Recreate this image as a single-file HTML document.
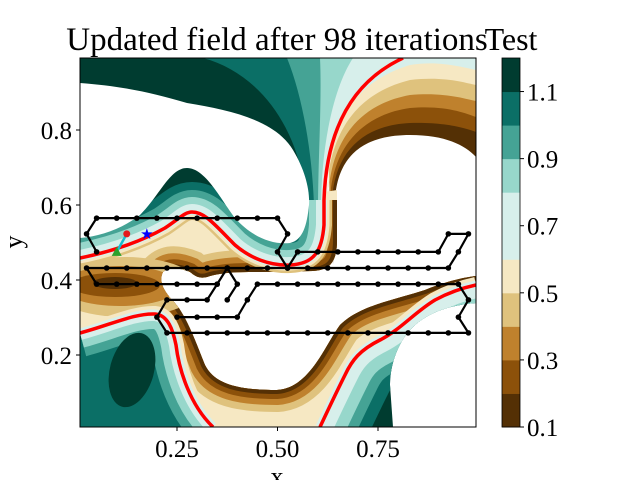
<!DOCTYPE html>
<html><head><meta charset="utf-8"><style>
html,body{margin:0;padding:0;background:#fff;}
svg{display:block;font-family:"Liberation Serif",serif;}
</style></head><body>
<svg id="chart" width="640" height="480" viewBox="0 0 640 480">
<defs>
<clipPath id="plotclip"><rect x="80" y="58" width="396" height="369"/></clipPath>
<clipPath id="clipL"><path d="M80,58 L403,58 C345,85 326,140 324,200 L324,225 C322,250 315,264 290,265 C270,266 250,258 235,245 C215,225 205,212 192,212 C185,212 180,218 165,228 C140,242 110,252 80,258 Z"/></clipPath>
<clipPath id="clipR"><path d="M80,258 C110,252 140,242 165,228 C180,218 185,212 192,212 C205,212 215,225 235,245 C250,258 270,266 290,265 C315,264 322,250 324,225 L324,200 C326,140 345,85 403,58 L476,58 L476,427 L80,427 Z"/></clipPath>
<clipPath id="clipZ2"><path d="M80,230 L337,190 L337,200 L337,240 C337,262 330,270 313,271 L260,272 C240,272 225,272 210,276 C200,280 195,276 190,272 C180,268 170,266 163,272 C158,282 165,292 172,300 C185,312 195,340 205,365 C215,385 240,390 277,390 C310,388 325,345 340,325 C360,305 395,300 425,290 C445,282 460,278 476,276 L476,285 C462,288 450,292 435,300 C415,312 400,330 380,340 C360,350 352,360 345,375 C335,395 328,410 320,427 L80,427 Z"/></clipPath>
<clipPath id="clipT2"><path d="M80,333 C110,325 135,313 155,314 C168,315 173,330 176,345 C179,370 190,405 213,427 L80,427 Z"/></clipPath>
<clipPath id="clipT3"><path d="M320,427 C328,410 335,395 345,375 C352,360 360,350 380,340 C400,330 415,312 435,300 C450,292 462,288 476,285 L476,303 C450,305 430,312 415,325 C398,340 390,365 390,385 L393,427 Z"/></clipPath>
<path id="red1a" d="M80,258 C110,252 140,242 165,228 C180,218 185,212 192,212 C205,212 215,225 235,245 C250,258 270,266 290,265 C315,264 322,250 324,225 L324,200"/>
<path id="red2" d="M80,333 C110,325 135,313 155,314 C168,315 173,330 176,345 C179,370 190,405 213,427"/>
<path id="red3" d="M320,427 C328,410 335,395 345,375 C352,360 360,350 380,340 C400,330 415,312 435,300 C450,292 462,288 476,285"/>
<path id="hpath" d="M337,200 L337,240 C337,262 330,270 313,271 L260,272 C240,272 225,272 210,276 C200,280 195,276 190,272 C180,268 170,266 163,272 C158,282 165,292 172,300 C185,312 195,340 205,365 C215,385 240,390 277,390 C310,388 325,345 340,325 C360,305 395,300 425,290 C445,282 460,278 476,276"/>
</defs>

<g clip-path="url(#plotclip)">
  <g clip-path="url(#clipL)">
    <rect x="80" y="58" width="400" height="220" fill="#003c30"/>
    <path d="M203,58 C255,72 295,120 305,190 L330,270 L476,270 L476,58 Z" fill="#0b6f66"/>
    <path d="M287,58 C302,95 312,150 314,205 L330,270 L476,270 L476,58 Z" fill="#45a395"/>
    <path d="M320,58 C322,100 318,160 318,210 L330,270 L476,270 L476,58 Z" fill="#97d7cb"/>
    <path d="M353,58 C332,90 321,150 321,210 L330,270 L476,270 L476,58 Z" fill="#d7efeb"/>
    <use href="#red1a" fill="none" stroke="#0b6f66" stroke-width="60"/>
    <use href="#red1a" fill="none" stroke="#45a395" stroke-width="44"/>
    <use href="#red1a" fill="none" stroke="#97d7cb" stroke-width="30"/>
    <use href="#red1a" fill="none" stroke="#d7efeb" stroke-width="16"/>
    <path d="M80,83 C120,86 150,92 187,103 C230,110 275,120 293,150 C305,170 310,190 309,205 C307,225 303,240 290,243 C270,245 250,235 235,218 C220,198 205,168 187,168 C170,168 160,195 140,215 C120,230 100,236 80,238 Z" fill="#fff"/>
  </g>
  <g clip-path="url(#clipR)">
    <path d="M333,265 L335,200 C338,150 370,135 410,135 C445,135 465,145 476,157 L476,58 L330,58 Z" fill="#543005"/>
    <path d="M331,265 L332,200 C335,150 365,125 410,123 C445,122 465,128 476,132 L476,58 L330,58 Z" fill="#8c510a"/>
    <path d="M329,265 L330,200 C332,150 360,115 410,108 C445,105 465,113 476,117 L476,58 L330,58 Z" fill="#bf812d"/>
    <path d="M328,265 L328,200 C330,145 355,105 410,95 C445,92 465,99 476,101 L476,58 L330,58 Z" fill="#dfc27d"/>
    <path d="M326,265 L326,200 C328,140 350,95 410,80 C445,76 465,83 476,85 L476,58 L330,58 Z" fill="#f6e8c3"/>
    <path d="M325,265 L325,200 C327,135 345,85 410,65 C440,60 465,68 476,70 L476,58 L330,58 Z" fill="#d7efeb"/>
    <g clip-path="url(#clipZ2)">
      <rect x="80" y="180" width="400" height="250" fill="#f6e8c3"/>
      <use href="#hpath" fill="none" stroke="#dfc27d" stroke-width="44"/>
      <use href="#hpath" fill="none" stroke="#bf812d" stroke-width="30"/>
      <use href="#hpath" fill="none" stroke="#8c510a" stroke-width="18"/>
      <use href="#hpath" fill="none" stroke="#543005" stroke-width="8"/>
      <ellipse cx="125" cy="287" rx="75" ry="30" fill="#dfc27d"/>
      <ellipse cx="120" cy="286" rx="60" ry="20" fill="#bf812d"/>
      <ellipse cx="115" cy="285" rx="45" ry="12" fill="#8c510a"/>
      <ellipse cx="115" cy="283" rx="22" ry="6" fill="#543005"/>
      <use href="#red2" fill="none" stroke="#f6e8c3" stroke-width="16"/>
      <use href="#red3" fill="none" stroke="#f6e8c3" stroke-width="16"/>
      <use href="#red2" fill="none" stroke="#d7efeb" stroke-width="9"/>
      <use href="#red3" fill="none" stroke="#d7efeb" stroke-width="9"/>
    </g>
    <use href="#red1a" fill="none" stroke="#dfc27d" stroke-width="16"/>
    <use href="#red1a" fill="none" stroke="#f6e8c3" stroke-width="11"/>
    <use href="#red1a" fill="none" stroke="#d7efeb" stroke-width="6"/>
  </g>
  <g clip-path="url(#clipT2)">
    <rect x="80" y="300" width="140" height="130" fill="#0b6f66"/>
    <use href="#red2" fill="none" stroke="#45a395" stroke-width="48"/>
    <use href="#red2" fill="none" stroke="#97d7cb" stroke-width="30"/>
    <use href="#red2" fill="none" stroke="#d7efeb" stroke-width="14"/>
    <ellipse cx="132" cy="370" rx="22" ry="38" transform="rotate(15 132 370)" fill="#003c30"/>
  </g>
  <g clip-path="url(#clipT3)">
    <rect x="300" y="270" width="180" height="160" fill="#003c30"/>
    <use href="#red3" fill="none" stroke="#0b6f66" stroke-width="94"/>
    <use href="#red3" fill="none" stroke="#45a395" stroke-width="70"/>
    <use href="#red3" fill="none" stroke="#97d7cb" stroke-width="50"/>
    <use href="#red3" fill="none" stroke="#d7efeb" stroke-width="26"/>
  </g>
  <g fill="none" stroke="#ff0000" stroke-width="3.5">
    <path d="M80,258 C110,252 140,242 165,228 C180,218 185,212 192,212 C205,212 215,225 235,245 C250,258 270,266 290,265 C315,264 322,250 324,225 L324,200 C326,140 345,85 403,58"/>
    <use href="#red2"/>
    <use href="#red3"/>
  </g>
  <g id="network"></g>
</g>
<rect x="80" y="58" width="396" height="369" fill="none" stroke="#000" stroke-width="1"/>
<g id="axes"></g>
<text x="277" y="50" font-size="33" text-anchor="middle">Updated field after 98 iterations</text>
<text x="511" y="50" font-size="32" text-anchor="middle">Test</text>
<text x="277" y="485" font-size="26" text-anchor="middle">x</text>
<text x="22" y="242" font-size="26" text-anchor="middle" transform="rotate(-90 22 242)">y</text>
<g id="colorbar"></g>
</svg>
<script>
const xTicks = [0.25, 0.5, 0.75];
const xTickLabels = ["0.25", "0.50", "0.75"];
const yTicks = [0.2, 0.4, 0.6, 0.8];
const yTickLabels = ["0.2", "0.4", "0.6", "0.8"];
const cbLevels = [0.1,0.2,0.3,0.4,0.5,0.6,0.7,0.8,0.9,1.0,1.1,1.2];
const cbColors = ["#543005","#8c510a","#bf812d","#dfc27d","#f6e8c3","#d7efeb","#d7efeb","#97d7cb","#45a395","#0b6f66","#003c30"];
const cbTicks = [0.1,0.3,0.5,0.7,0.9,1.1];
const cbTickLabels = ["0.1","0.3","0.5","0.7","0.9","1.1"];
const pathTopX = [0.05,0.025,0.05,0.1,0.15,0.2,0.25,0.3,0.35,0.4,0.45,0.5,0.525,0.5,0.525];
const pathTopY = [0.475,0.523,0.565,0.565,0.565,0.565,0.565,0.565,0.565,0.565,0.565,0.565,0.523,0.475,0.432];
const pathMidX = [0.525,0.55,0.6,0.65,0.7,0.75,0.8,0.85,0.9,0.925,0.975,0.95,0.925,0.875,0.825,0.775,0.725,0.675,0.625,0.575,0.525,0.475,0.425,0.375,0.325,0.275,0.225,0.175,0.125,0.075,0.025,0.05,0.1,0.15,0.2,0.25,0.3,0.35];
const pathMidY = [0.432,0.475,0.475,0.475,0.475,0.475,0.475,0.475,0.475,0.523,0.523,0.475,0.432,0.432,0.432,0.432,0.432,0.432,0.432,0.432,0.432,0.432,0.432,0.432,0.432,0.432,0.432,0.432,0.432,0.432,0.432,0.389,0.389,0.389,0.389,0.389,0.389,0.389];
const pathLowX = [0.375,0.35,0.325,0.275,0.225,0.2,0.225,0.275,0.325,0.375,0.425,0.475,0.525,0.575,0.625,0.675,0.725,0.775,0.825,0.875,0.925,0.975,0.95,0.975,0.95,0.9,0.85,0.8,0.75,0.7,0.65,0.6,0.55,0.5,0.45,0.425,0.4,0.35,0.3,0.25];
const pathLowY = [0.432,0.389,0.347,0.347,0.347,0.301,0.259,0.259,0.259,0.259,0.259,0.259,0.259,0.259,0.259,0.259,0.259,0.259,0.259,0.259,0.259,0.259,0.301,0.347,0.389,0.389,0.389,0.389,0.389,0.389,0.389,0.389,0.389,0.389,0.389,0.347,0.301,0.301,0.301,0.301];
const pathBranchX = [0.375,0.4,0.375];
const pathBranchY = [0.432,0.389,0.347];
const startX = [0.1], startY = [0.475];
const currentX = [0.125], currentY = [0.523];
const goalX = [0.175], goalY = [0.523];

const NS = "http://www.w3.org/2000/svg";
function X(v){ return 76.5 + 402*v; }
function Y(v){ return 430 - 375*v; }
function CB(v){ return 427 - (v-0.1)/1.1*369; }
function mk(tag, attrs, parent){ const e=document.createElementNS(NS,tag); for(const k in attrs) e.setAttribute(k,attrs[k]); parent.appendChild(e); return e; }

const axes = document.getElementById('axes');
xTicks.forEach((t,i)=>{
  const l = mk('line',{x1:X(t),x2:X(t),y1:427,y2:431,stroke:'#000'},axes);
  
  
  const tx = mk('text',{x:X(t),y:457,'font-size':25,'text-anchor':'middle'},axes);
  tx.textContent = xTickLabels[i];
  
  
});
yTicks.forEach((t,i)=>{
  const l = mk('line',{x1:76,x2:80,y1:Y(t),y2:Y(t),stroke:'#000'},axes);
  
  
  const tx = mk('text',{x:72,y:Y(t)+9,'font-size':25,'text-anchor':'end'},axes);
  tx.textContent = yTickLabels[i];
  
  
});

const cb = document.getElementById('colorbar');
for(let i=0;i<cbColors.length;i++){
  const r = mk('rect',{x:502,y:CB(cbLevels[i+1]),width:18,height:CB(cbLevels[i])-CB(cbLevels[i+1])+0.5,fill:cbColors[i]},cb);
  
  
}
mk('rect',{x:502,y:58,width:18,height:369,fill:'none',stroke:'#000','stroke-width':0.8},cb);
cbTicks.forEach((t,i)=>{
  const l = mk('line',{x1:520,x2:524,y1:CB(t),y2:CB(t),stroke:'#000'},cb);
  
  
  const tx = mk('text',{x:527,y:CB(t)+9,'font-size':25},cb);
  tx.textContent = cbTickLabels[i];
  
  
});

const net = document.getElementById('network');
function drawPath(xs, ys, name){
  const pts = xs.map((x,i)=>X(x)+','+Y(ys[i])).join(' ');
  const pl = mk('polyline',{points:pts,fill:'none',stroke:'#000','stroke-width':2.2,'stroke-linejoin':'round'},net);
  
  
  xs.forEach((x,i)=>{
    const c = mk('circle',{cx:X(x),cy:Y(ys[i]),r:2.8,fill:'#000'},net);
    
    
  });
}
drawPath(pathTopX, pathTopY, 'path-top');
drawPath(pathMidX, pathMidY, 'path-middle');
drawPath(pathLowX, pathLowY, 'path-lower');
drawPath(pathBranchX, pathBranchY, 'path-branch');

const seg = mk('line',{x1:X(startX[0]),y1:Y(startY[0]),x2:X(currentX[0]),y2:Y(currentY[0]),stroke:'#17becf','stroke-width':2.5},net);


const tri = mk('polygon',{points:`${X(startX[0])-5},${Y(startY[0])+4} ${X(startX[0])+5},${Y(startY[0])+4} ${X(startX[0])},${Y(startY[0])-5}`,fill:'#2ca02c'},net);


const dot = mk('circle',{cx:X(currentX[0]),cy:Y(currentY[0]),r:3.5,fill:'#e41a1c'},net);


const star = mk('text',{x:X(goalX[0]),y:Y(goalY[0])+5,'font-size':15,'text-anchor':'middle',fill:'#0000ff'},net);
star.textContent = '★';


</script>
</body></html>
